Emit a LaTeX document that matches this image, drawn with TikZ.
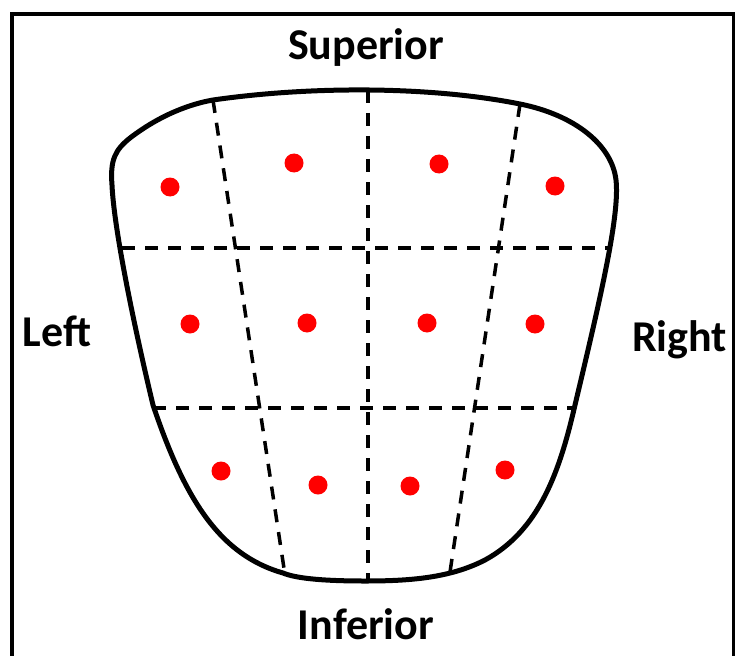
\documentclass[tikz,border=0pt]{standalone}
\usepackage{fontspec}
\setmainfont{Carlito}
\begin{document}
\begin{tikzpicture}[x=1pt,y=-1pt,
  outline/.style={line width=5pt,line join=round},
  grid/.style={line width=3.5pt,dash pattern=on 13pt off 10pt},
  frame/.style={line width=4.5pt},
  dot/.style={circle,fill=red,minimum size=19pt,inner sep=0pt},
  lab/.style={font=\fontsize{44}{50}\selectfont\bfseries,anchor=base,inner sep=0pt}]
\useasboundingbox (0,0) rectangle (735,655);
\draw[frame] (12,700) -- (12,14) -- (734,14) -- (734,700);
% outline
\draw[outline] (213,100) .. controls (310,86) and (430,86) .. (520,104)
  .. controls (575,115) and (612,145) .. (616,180)
  .. controls (620,215) and (600,300) .. (575,405)
  .. controls (560,470) and (540,530) .. (485,560)
  .. controls (450,578) and (410,581) .. (365,581)
  .. controls (320,581) and (295,578) .. (283,573)
  .. controls (220,555) and (185,500) .. (153,405)
  .. controls (135,330) and (114,230) .. (112,185)
  .. controls (110,160) and (115,150) .. (130,138)
  .. controls (160,115) and (190,104) .. (213,100) -- cycle;
% grid coordinates
\coordinate (v1t) at (213,100); \coordinate (v1b) at (285,575);
\coordinate (v2t) at (368,90);  \coordinate (v2b) at (368,581);
\coordinate (v3t) at (520,104); \coordinate (v3b) at (450,572);
\coordinate (h1l) at (122,248); \coordinate (h1r) at (608,248);
\coordinate (h2l) at (153,408); \coordinate (h2r) at (575,408);
\draw[grid] (v1t) -- (v1b);
\draw[grid] (v2t) -- (v2b);
\draw[grid] (v3t) -- (v3b);
\draw[grid] (h1l) -- (h1r);
\draw[grid] (h2l) -- (h2r);
% dots
\node[dot] (d11) at (170,187) {};
\node[dot] (d12) at (294,163) {};
\node[dot] (d13) at (439,164) {};
\node[dot] (d14) at (555,186) {};
\node[dot] (d21) at (190,324) {};
\node[dot] (d22) at (307,323) {};
\node[dot] (d23) at (427,323) {};
\node[dot] (d24) at (535,324) {};
\node[dot] (d31) at (221,471) {};
\node[dot] (d32) at (318,485) {};
\node[dot] (d33) at (410,486) {};
\node[dot] (d34) at (505,470) {};
% labels
\node[lab] (sup) at (366,59.5) {Superior};
\node[lab] (lft) at (57,346) {Left};
\node[lab] (rgt) at (679.5,351) {Right};
\node[lab] (inf) at (366,639) {Inferior};
\end{tikzpicture}
\end{document}
